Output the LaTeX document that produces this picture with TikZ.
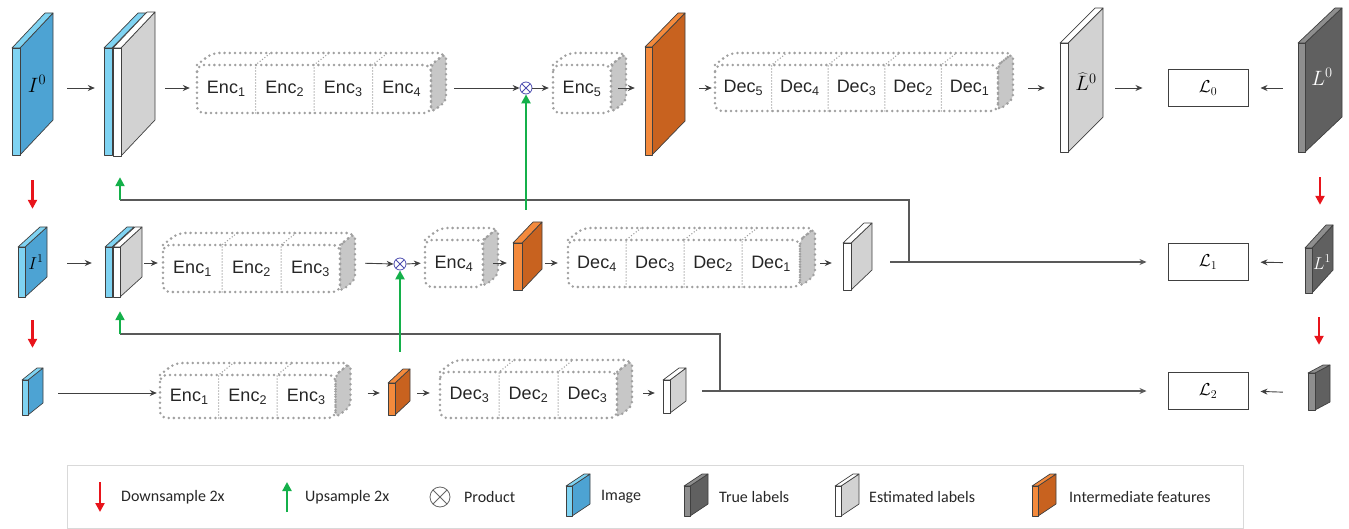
\documentclass[tikz,border=0pt]{standalone}
\usepackage[no-math]{fontspec}
\setmainfont{Liberation Sans}
\newfontfamily\legendfont{Carlito}
\usetikzlibrary{arrows.meta,fit}

\definecolor{imgfront}{HTML}{7FD3F2}
\definecolor{imgside}{HTML}{4DA3D3}
\definecolor{trufront}{HTML}{8E8E8E}
\definecolor{truside}{HTML}{606060}
\definecolor{estfront}{HTML}{FFFFFF}
\definecolor{estside}{HTML}{D2D2D2}
\definecolor{midfront}{HTML}{F48A3C}
\definecolor{midside}{HTML}{C8621F}
\definecolor{downred}{HTML}{E8141B}
\definecolor{upgreen}{HTML}{14B04A}
\definecolor{dotgray}{HTML}{A0A0A0}

\tikzset{
  conn/.style={-{Stealth[length=7pt,width=6pt]}, draw=black!75, line width=0.9pt},
  skip/.style={draw=black!65, line width=1.1pt},
  downsample/.style={-{Triangle[length=9pt,width=9pt]}, draw=downred, line width=2.6pt},
  upsample/.style={-{Triangle[length=9pt,width=9pt]}, draw=upgreen, line width=2.6pt},
  slabedge/.style={draw=black!75, line width=0.7pt, line join=round},
  dotbox/.style={draw=dotgray, line width=2.8pt, line cap=round, dash pattern=on 0pt off 5.2pt},
  divline/.style={draw=dotgray, line width=1.5pt, line cap=round, dash pattern=on 0pt off 3pt},
  sideface/.style={dotbox, fill=black!22},
  celltext/.style={font=\fontsize{18}{20}\selectfont, inner sep=0pt, text=black!85},
  slablabel/.style={font=\fontsize{22}{24}\selectfont, inner sep=0pt},
  prod/.style={circle, draw=black!45!blue!70, line width=0.8pt, minimum size=12pt, inner sep=0pt,
    path picture={\draw[black!45!blue!70, line width=0.8pt]
      (path picture bounding box.north west) -- (path picture bounding box.south east)
      (path picture bounding box.south west) -- (path picture bounding box.north east);}},
  lossbox/.style={draw=black!75, line width=1pt, minimum width=80pt, minimum height=37pt,
    inner sep=0pt, font=\fontsize{18}{20}\selectfont},
  legtext/.style={anchor=west, font=\legendfont\fontsize{16}{18}\selectfont, inner sep=0pt, text=black!85},
}

% slab: name, x, y (front bottom left), thickness, height, dx, dy, colour prefix
\newcommand{\slab}[8]{%
  \filldraw[slabedge, fill=#8side] (#2+#4,#3) -- ++(#6,-#7) -- ++(0,-#5) -- ++(-#6,#7) -- cycle;
  \filldraw[slabedge, fill=#8front] (#2,#3-#5) -- ++(#4,0) -- ++(#6,-#7) -- ++(-#4,0) -- cycle;
  \filldraw[slabedge, fill=#8front] (#2,#3) rectangle ++(#4,-#5);
  \coordinate (#1-a) at (#2,#3);
  \coordinate (#1-b) at (#2+#4+#6,#3-#5-#7);
  \node[fit=(#1-a)(#1-b), inner sep=0pt] (#1) {};
}

% dotted block of cells: name, x0, ytop, n, cell width, height, labels
\newcommand{\cellrow}[7]{%
  \pgfmathsetmacro\rowW{#4*#5}
  \filldraw[sideface, rounded corners=5pt] (#2+\rowW,#3) -- ++(15,-12) -- ++(0,#6) -- ++(-15,12) -- cycle;
  \draw[dotbox, rounded corners=7pt] (#2,#3) -- ++(15,-12) -- ++(\rowW,0) -- ++(-15,12);
  \draw[dotbox, rounded corners=7pt] (#2,#3) rectangle ++(\rowW,#6);
  \ifnum#4>1
    \pgfmathtruncatemacro\rowM{#4-1}
    \foreach \k in {1,...,\rowM}
      \draw[divline] (#2+\k*#5,#3+#6) -- ++(0,-#6) -- ++(15,-12);
  \fi
  \foreach \lab [count=\k] in {#7}
    \node[celltext] (#1-\k) at (#2+\k*#5-0.5*#5,#3+0.5*#6) {\lab};
  \coordinate (#1-a) at (#2,#3-12);
  \coordinate (#1-b) at (#2+\rowW+15,#3+#6);
  \node[fit=(#1-a)(#1-b), inner sep=0pt] (#1) {};
}

\begin{document}
\begin{tikzpicture}[x=1pt,y=-1pt]
  \useasboundingbox (0,0) rectangle (1349,529);

  % Row levels
  \coordinate (row0) at (0,88);
  \coordinate (row1) at (0,263);
  \coordinate (row2) at (0,393);

  % Row 0: full resolution
  \slab{i0}{12}{155}{8}{107}{33}{35}{img}
  \node[slablabel] (i0-lab) at (37,84) {$I^0$};
  \slab{pb0}{104}{155}{8}{107}{34}{35}{img}
  \slab{p0}{113}{156}{8}{108}{34}{36}{est}
  \cellrow{enc0}{197}{65}{4}{58.5}{48}{Enc\textsubscript{1},Enc\textsubscript{2},Enc\textsubscript{3},Enc\textsubscript{4}}
  \node[prod] (x0) at (526,88) {};
  \cellrow{enc5}{553}{65}{1}{58}{48}{Enc\textsubscript{5}}
  \slab{o0}{645}{155}{7}{108}{33}{34}{mid}
  \cellrow{dec0}{715}{65}{5}{56.6}{46}{Dec\textsubscript{5},Dec\textsubscript{4},Dec\textsubscript{3},Dec\textsubscript{2},Dec\textsubscript{1}}
  \slab{e0}{1060}{152}{8}{109}{35}{35}{est}
  \node[slablabel] (e0-lab) at (1086,82) {$\widehat{L}^0$};
  \node[lossbox] (l0) at (1208,88) {$\mathcal{L}_0$};
  \slab{t0}{1298}{152}{7}{109}{37}{35}{tru}
  \node[slablabel, text=white] (t0-lab) at (1322,77) {$L^0$};

  \draw[conn, shorten <=14pt, shorten >=9pt] (i0.east |- row0) -- (pb0.west |- row0);
  \draw[conn, shorten <=10pt, shorten >=7pt] (p0.east |- row0) -- (enc0.west |- row0);
  \draw[conn, shorten <=8pt] (enc0.east |- row0) -- (x0.west);
  \draw[conn, shorten >=4pt] (x0.east) -- (enc5.west |- row0);
  \draw[conn, shorten >=10pt] ([xshift=-8pt]enc5.east |- row0) -- (o0.west |- row0);
  \draw[conn, shorten <=14pt, shorten >=3pt] (o0.east |- row0) -- (dec0.west |- row0);
  \draw[conn, shorten <=15pt, shorten >=15pt] (dec0.east |- row0) -- (e0.west |- row0);
  \draw[conn, shorten <=12pt, shorten >=25pt] (e0.east |- row0) -- (l0.west);
  \draw[conn, shorten <=15pt, shorten >=12pt] (t0.west |- row0) -- (l0.east);

  % Row 1: half resolution
  \slab{i1}{18}{297}{7}{50}{22}{20}{img}
  \node[slablabel, font=\fontsize{18}{20}\selectfont] (i1-lab) at (36,262) {$I^1$};
  \slab{pb1}{105}{297}{7}{50}{22}{20}{img}
  \slab{p1}{113}{297}{7}{50}{22}{20}{est}
  \cellrow{enc1}{163}{245}{3}{59}{47}{Enc\textsubscript{1},Enc\textsubscript{2},Enc\textsubscript{3}}
  \node[prod] (x1) at (400,264) {};
  \cellrow{enc4}{425}{240}{1}{58}{47}{Enc\textsubscript{4}}
  \slab{o1}{513}{290}{9}{47}{20}{21}{mid}
  \cellrow{dec1}{568}{240}{4}{58}{47}{Dec\textsubscript{4},Dec\textsubscript{3},Dec\textsubscript{2},Dec\textsubscript{1}}
  \slab{e1}{843}{290}{8}{47}{21}{20}{est}
  \node[lossbox] (l1) at (1208,262) {$\mathcal{L}_1$};
  \slab{t1}{1305}{293}{7}{45}{21}{23}{tru}
  \node[slablabel, text=white, font=\fontsize{18}{20}\selectfont] (t1-lab) at (1322,262) {$L^1$};

  \draw[conn, shorten <=20pt, shorten >=13pt] (i1.east |- row1) -- (pb1.west |- row1);
  \draw[conn, shorten <=2pt, shorten >=5pt] (p1.east |- row1) -- (enc1.west |- row1);
  \draw[conn, shorten <=10pt] (enc1.east |- row1) -- (x1.west);
  \draw[conn, shorten >=4pt] (x1.east) -- (enc4.west |- row1);
  \draw[conn, shorten >=6pt] ([xshift=-5pt]enc4.east |- row1) -- (o1.west |- row1);
  \draw[conn, shorten <=3pt, shorten >=10pt] (o1.east |- row1) -- (dec1.west |- row1);
  \draw[conn, shorten <=5pt, shorten >=11pt] (dec1.east |- row1) -- (e1.west |- row1);
  \draw[conn, shorten <=22pt, shorten >=12pt] (t1.west |- row1) -- (l1.east);

  % Row 2: quarter resolution
  \slab{i2}{22}{415}{6}{35}{15}{12}{img}
  \cellrow{enc2}{160}{375}{3}{58.5}{43}{Enc\textsubscript{1},Enc\textsubscript{2},Enc\textsubscript{3}}
  \slab{o2}{388}{415}{7}{32}{15}{14}{mid}
  \cellrow{dec2}{440}{372}{3}{59}{46}{Dec\textsubscript{3},Dec\textsubscript{2},Dec\textsubscript{3}}
  \slab{e2}{663}{413}{7}{33}{16}{12}{est}
  \node[lossbox] (l2) at (1208,391) {$\mathcal{L}_2$};
  \slab{t2}{1308}{410}{7}{37}{15}{8}{tru}

  \draw[conn, shorten <=15pt, shorten >=3pt] (i2.east |- row2) -- (enc2.west |- row2);
  \draw[conn, shorten <=17pt, shorten >=8pt] (enc2.east |- row2) -- (o2.west |- row2);
  \draw[conn, shorten <=7pt, shorten >=10pt] (o2.east |- row2) -- (dec2.west |- row2);
  \draw[conn, shorten <=11pt, shorten >=8pt] (dec2.east |- row2) -- (e2.west |- row2);
  \draw[conn, shorten <=25pt, shorten >=12pt] (t2.west |- row2) -- (l2.east);

  % Estimated labels to losses, and skip paths back up
  \coordinate (j1) at (909,262);
  \coordinate (k1) at (120,200);
  \coordinate (j2) at (720,392);
  \coordinate (k2) at (120,334);
  \draw[skip, -{Stealth[length=7pt,width=6pt]}, shorten <=18pt, shorten >=21pt] (e1.east |- l1) -- (l1.west);
  \draw[skip, -{Stealth[length=7pt,width=6pt]}, shorten <=16pt, shorten >=21pt] (e2.east |- l2) -- (l2.west);
  \draw[skip] (j1) |- (k1);
  \draw[skip] (j2) |- (k2);
  \draw[upsample, shorten >=21pt] (k1) -- (k1 |- p0.south);
  \draw[upsample, shorten >=14pt] (k2) -- (k2 |- p1.south);
  \draw[upsample, shorten <=12pt] (x0.south |- o1.north) -- (x0.south);
  \draw[upsample, shorten <=17pt] (x1.south |- o2.north) -- (x1.south);

  % Downsampling of inputs and labels
  \draw[downsample, shorten <=25pt, shorten >=18pt] (i0.south) -- (i0.south |- i1.north);
  \draw[downsample, shorten <=23pt, shorten >=20pt] (i1.south) -- (i1.south |- i2.north);
  \draw[downsample, shorten <=25pt, shorten >=20pt] (t0.south) -- (t0.south |- t1.north);
  \draw[downsample, shorten <=24pt, shorten >=20pt] (t1.south) -- (t1.south |- t2.north);

  % Legend
  \draw[draw=black!15, line width=1pt] (67,465) rectangle (1243,528);
  \draw[downsample] (100,482) -- (100,512);
  \node[legtext] (k-down) at (121,497) {Downsample 2x};
  \draw[upsample] (287,512) -- (287,482);
  \node[legtext] (k-up) at (305,497) {Upsample 2x};
  \node[prod, minimum size=20pt, draw=black!60,
    path picture={\draw[black!60, line width=0.8pt]
      (path picture bounding box.north west) -- (path picture bounding box.south east)
      (path picture bounding box.south west) -- (path picture bounding box.north east);}] (k-prod) at (440,497) {};
  \node[legtext] (k-prodt) at (464,497) {Product};
  \slab{kimg}{566}{516}{6}{30}{18}{12}{img}
  \node[legtext] (k-img) at (601,497) {Image};
  \slab{ktru}{684}{516}{6}{30}{18}{12}{tru}
  \node[legtext] (k-tru) at (719,497) {True labels};
  \slab{kest}{835}{516}{6}{30}{18}{12}{est}
  \node[legtext] (k-est) at (869,497) {Estimated labels};
  \slab{kmid}{1032}{516}{6}{30}{18}{12}{mid}
  \node[legtext] (k-mid) at (1069,497) {Intermediate features};

\end{tikzpicture}
\end{document}
